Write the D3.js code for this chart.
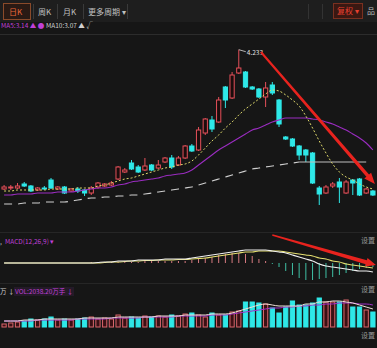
<!DOCTYPE html>
<html lang="zh-CN">
<head>
  <meta charset="utf-8">
  <title>日K</title>
  <script src="https://d3js.org/d3.v7.min.js"></script>
  <style>
    body { margin: 0; background: #161616; overflow: hidden; }
    svg { display: block; font-family: "Noto Sans CJK SC", "Noto Sans", sans-serif; }
  </style>
</head>
<body>
<div id="chart"></div>
<script>
"use strict"

// K线数据
const openP  = [2.84,2.85,2.85,2.89,2.87,2.83,2.85,2.93,2.84,2.86,2.82,2.84,2.83,2.80,2.86,2.87,2.88,2.94,3.01,3.10,
                3.06,3.03,3.08,3.05,3.11,3.15,3.08,3.15,3.27,3.23,3.40,3.53,3.51,3.86,3.75,4.00,4.01,3.86,3.84,3.76,
                3.88,3.73,3.36,3.34,3.27,3.23,3.20,2.85,2.80,2.87,2.91,2.80,2.93,2.94,2.80,2.82];
const highP  = [2.88,2.88,2.90,2.91,2.88,2.86,2.87,2.95,2.87,2.87,2.85,2.86,2.84,2.87,2.91,2.90,2.92,3.07,3.05,3.13,
                3.08,3.15,3.09,3.13,3.16,3.18,3.17,3.28,3.29,3.46,3.55,3.57,3.76,3.87,4.01,4.233,4.02,3.87,3.85,3.91,
                3.91,3.74,3.37,3.35,3.28,3.24,3.21,2.87,2.88,2.91,2.95,2.93,2.94,2.95,2.85,2.83];
const lowP   = [2.83,2.83,2.84,2.86,2.81,2.82,2.83,2.84,2.83,2.79,2.81,2.80,2.77,2.78,2.84,2.86,2.87,2.93,3.00,3.03,
                3.00,3.02,3.02,3.04,3.10,3.04,3.07,3.14,3.21,3.22,3.38,3.41,3.50,3.65,3.74,3.99,3.85,3.83,3.75,3.66,
                3.78,3.46,3.33,3.26,3.13,3.11,2.89,2.68,2.79,2.85,2.70,2.79,2.78,2.77,2.79,2.77];
const closeP = [2.86,2.86,2.87,2.87,2.82,2.85,2.84,2.85,2.86,2.80,2.84,2.82,2.80,2.85,2.90,2.89,2.90,3.06,3.03,3.04,
                3.01,3.07,3.03,3.08,3.15,3.06,3.15,3.27,3.22,3.43,3.54,3.44,3.73,3.73,3.98,4.05,3.86,3.84,3.76,3.85,
                3.80,3.49,3.34,3.27,3.18,3.18,2.90,2.79,2.86,2.89,2.86,2.91,2.90,2.78,2.84,2.78];

// 均线
const ma5  = [2.82,2.82,2.83,2.83,2.83,2.83,2.83,2.84,2.84,2.84,2.84,2.85,2.85,2.85,2.87,2.88,2.90,2.92,2.94,2.95,
              2.97,2.99,3.01,3.03,3.05,3.06,3.08,3.09,3.12,3.18,3.25,3.32,3.38,3.45,3.51,3.58,3.64,3.69,3.74,3.79,
              3.83,3.82,3.78,3.73,3.67,3.57,3.45,3.32,3.20,3.09,3.01,2.96,2.93,2.89,2.86,2.84];
const ma10 = [2.78,2.78,2.79,2.79,2.79,2.80,2.80,2.80,2.81,2.81,2.81,2.82,2.83,2.84,2.85,2.85,2.86,2.88,2.89,2.91,
              2.92,2.93,2.94,2.95,2.97,2.98,2.99,3.00,3.03,3.08,3.13,3.18,3.23,3.27,3.31,3.35,3.39,3.43,3.45,3.48,
              3.51,3.53,3.55,3.55,3.55,3.55,3.54,3.53,3.51,3.49,3.46,3.43,3.39,3.35,3.30,3.23];
const ma30 = [2.69,2.69,2.69,2.70,2.70,2.70,2.71,2.71,2.71,2.71,2.72,2.73,2.74,2.75,2.75,2.76,2.76,2.77,2.77,2.78,
              2.78,2.79,2.80,2.81,2.82,2.83,2.84,2.85,2.86,2.88,2.90,2.92,2.94,2.96,2.98,3.00,3.02,3.04,3.05,3.06,
              3.07,3.08,3.09,3.10,3.11];
const levelPrice = 3.11, levelFrom = 44, levelTo = 54;

// MACD
const dif  = [0,0,0,0,0,0,0,0,0,0,0,0,0,0,0.005,0.01,0.01,0.02,0.02,0.02,
              0.03,0.03,0.03,0.03,0.04,0.04,0.04,0.04,0.05,0.06,0.07,0.08,0.09,0.10,0.11,0.12,0.13,0.13,0.13,0.13,
              0.12,0.11,0.10,0.08,0.06,0.04,0.02,-0.01,-0.03,-0.04,-0.05,-0.06,-0.07,-0.08,-0.08,-0.09];
const dea  = [0,0,0,0,0,0,0,0,0,0,0,0,0,0,0,0.005,0.01,0.01,0.015,0.02,
              0.02,0.025,0.025,0.03,0.03,0.03,0.035,0.035,0.04,0.045,0.05,0.06,0.07,0.08,0.09,0.10,0.11,0.11,0.12,0.12,
              0.12,0.12,0.11,0.10,0.09,0.08,0.07,0.05,0.04,0.02,0.01,-0.01,-0.02,-0.03,-0.04,-0.05];
const macdHist = [0,0,0,0,0,0,0,0,0,0,0,0,0,0.01,0.01,0.01,0.01,0.01,0.01,0.01,
                  0.01,0.02,0.02,0.02,0.02,0.02,0.02,0.02,0.03,0.04,0.05,0.06,0.08,0.09,0.10,0.10,0.09,0.07,0.04,0.02,
                  -0.01,-0.04,-0.08,-0.12,-0.15,-0.17,-0.17,-0.16,-0.15,-0.14,-0.12,-0.10,-0.08,-0.06,-0.05,-0.04];

// 成交量
const vol    = [3,4,5,6,8,7,8,10,7,8,7,8,9,10,8,9,8,12,9,10,
                9,11,10,11,10,12,11,13,14,12,10,14,12,12,15,16,25,25,24,23,
                19,14,20,26,22,22,24,29,25,25,25,27,20,20,17,15];
const volMa5  = [6,6,6,7,7,7,8,8,8,8,8,8,9,9,9,9,9,10,10,10,
                 10,10,10,11,11,11,11,12,12,12,12,13,13,13,14,16,18,20,22,23,
                 22,21,21,21,21,23,23,25,25,26,26,25,24,22,20,18];
const volMa10 = [6,6,6,6,6,7,7,7,7,7,7,8,8,8,8,8,9,9,9,9,
                 9,10,10,10,10,10,11,11,11,11,11,12,12,12,13,14,15,16,17,18,
                 19,19,20,20,21,21,22,22,23,23,24,24,24,23,23,22];

const W = 377, H = 348;
const red = "#e5505a", cyan = "#2ee8e8";

const svg = d3.select("#chart").append("svg").attr("width", W).attr("height", H);
svg.append("rect").attr("width", W).attr("height", H).attr("fill", "#161616");

// ---- 顶部工具栏 ----
svg.append("rect").attr("width", W).attr("height", 22).attr("fill", "#1e1e1e");
svg.append("line").attr("x1", 0).attr("x2", W).attr("y1", 34.5).attr("y2", 34.5).attr("stroke", "#2c2c2c");
svg.append("rect").attr("x", 3.5).attr("y", 3.5).attr("width", 27).attr("height", 16)
  .attr("fill", "#2a1a14").attr("stroke", "#8a4a2a");
const tabs = [["日K", 9, "#e8683a"], ["周K", 38, "#c0c0c0"], ["月K", 63, "#c0c0c0"], ["更多周期 ▾", 88, "#c0c0c0"]];
svg.selectAll(".tab").data(tabs).enter().append("text")
  .attr("x", d => d[1]).attr("y", 15).attr("fill", d => d[2])
  .attr("font-size", 8).text(d => d[0]);
[33, 57, 83, 127].forEach(x => svg.append("line").attr("x1", x + .5).attr("x2", x + .5)
  .attr("y1", 4).attr("y2", 19).attr("stroke", "#3a3a3a"));
[308, 322].forEach(x => svg.append("line").attr("x1", x + .5).attr("x2", x + .5)
  .attr("y1", 4).attr("y2", 19).attr("stroke", "#333"));
svg.append("rect").attr("x", 333.5).attr("y", 3.5).attr("width", 29).attr("height", 15)
  .attr("fill", "#3a1812").attr("stroke", "#7a3020");
svg.append("text").attr("x", 337).attr("y", 14).attr("fill", "#e84030").attr("font-size", 8).text("复权 ▾");
svg.append("text").attr("x", 367).attr("y", 14).attr("fill", "#bbb").attr("font-size", 8).text("品");

svg.append("text").attr("x", 1).attr("y", 28).attr("font-size", 6.5).attr("fill", "#c040d8").text("MA5:3.14 ▲ ●");
svg.append("text").attr("x", 46).attr("y", 28).attr("font-size", 6.5).attr("fill", "#d0d0d0").text("MA10:3.07 ▲ √");

// ---- 比例尺 ----
const x = d3.scaleBand().domain(d3.range(openP.length)).range([0, W]).padding(0.22);
const bw = x.bandwidth();
const cx = i => x(i) + bw / 2;
const yP = d3.scaleLinear().domain([2.60, 4.30]).range([213, 43]);
const yM = d3.scaleLinear().domain([-0.25, 0.25]).range([288, 238]);
const yV = d3.scaleLinear().domain([0, 40]).range([327, 287]);

// ---- 主图 ----
const main = svg.append("g");
const candles = d3.range(openP.length).map(i => ({i, o: openP[i], h: highP[i], l: lowP[i], c: closeP[i]}));

main.selectAll(".wick").data(candles).enter().append("path")
  .attr("d", d => {
    const top = yP(Math.max(d.o, d.c)), bot = yP(Math.min(d.o, d.c));
    return `M${cx(d.i)},${yP(d.h)}V${top}M${cx(d.i)},${bot}V${yP(d.l)}`;
  })
  .attr("stroke", d => d.c >= d.o ? red : cyan).attr("stroke-width", 1);

main.selectAll(".body").data(candles).enter().append("rect")
  .attr("x", d => x(d.i) + .5)
  .attr("y", d => yP(Math.max(d.o, d.c)))
  .attr("width", bw - 1)
  .attr("height", d => Math.max(1, Math.abs(yP(d.o) - yP(d.c))))
  .attr("fill", d => d.c >= d.o ? "#1a0c0c" : cyan)
  .attr("stroke", d => d.c >= d.o ? red : cyan).attr("stroke-width", 1);

const lineP = d3.line().x((d, i) => cx(i)).y(d => yP(d)).curve(d3.curveMonotoneX);
main.append("path").attr("d", lineP(ma30)).attr("fill", "none")
  .attr("stroke", "#cfcfcf").attr("stroke-width", 1.2).attr("stroke-dasharray", "8,6");
main.append("line").attr("x1", cx(levelFrom)).attr("x2", cx(levelTo))
  .attr("y1", yP(levelPrice)).attr("y2", yP(levelPrice)).attr("stroke", "#bdbdbd").attr("stroke-width", 1.2);
main.append("path").attr("d", lineP(ma10)).attr("fill", "none")
  .attr("stroke", "#9a2cc0").attr("stroke-width", 1.1);
main.append("path").attr("d", lineP(ma5)).attr("fill", "none")
  .attr("stroke", "#dcd66a").attr("stroke-width", 1).attr("stroke-dasharray", "2,2");

// 最高价标注
const peakI = highP.indexOf(d3.max(highP));
main.append("line").attr("x1", cx(peakI)).attr("y1", yP(highP[peakI]))
  .attr("x2", cx(peakI) + 7).attr("y2", yP(highP[peakI]) + 2).attr("stroke", "#ddd").attr("stroke-width", .8);
main.append("text").attr("x", cx(peakI) + 8).attr("y", yP(highP[peakI]) + 5)
  .attr("font-size", 6.5).attr("fill", "#e0e0e0").text(d3.max(highP).toFixed(3));

// ---- 箭头 ----
function arrow(g, x1, y1, x2, y2, w1, w2, hl, hw) {
  const dx = x2 - x1, dy = y2 - y1, len = Math.hypot(dx, dy);
  const ux = dx / len, uy = dy / len, nx = -uy, ny = ux;
  const bx = x2 - ux * hl, by = y2 - uy * hl;
  const pts = [
    [x1 + nx * w1 / 2, y1 + ny * w1 / 2], [bx + nx * w2 / 2, by + ny * w2 / 2],
    [bx + nx * hw / 2, by + ny * hw / 2], [x2, y2],
    [bx - nx * hw / 2, by - ny * hw / 2], [bx - nx * w2 / 2, by - ny * w2 / 2],
    [x1 - nx * w1 / 2, y1 - ny * w1 / 2]];
  g.append("path").attr("d", "M" + pts.join("L") + "Z").attr("fill", "#e8231e");
}

// ---- MACD ----
svg.append("line").attr("x1", 0).attr("x2", W).attr("y1", 232.5).attr("y2", 232.5).attr("stroke", "#262626");
svg.append("text").attr("x", 0).attr("y", 244).attr("font-size", 6.5).attr("fill", "#ddd").text(",");
svg.append("text").attr("x", 5).attr("y", 244).attr("font-size", 6.5).attr("fill", "#c040d8").text("MACD(12,26,9) ▾");
svg.append("text").attr("x", 361).attr("y", 243).attr("font-size", 7).attr("fill", "#9a9a9a").text("设置");

const macd = svg.append("g");
macd.selectAll(".mh").data(macdHist).enter().append("line")
  .attr("x1", (d, i) => cx(i)).attr("x2", (d, i) => cx(i))
  .attr("y1", yM(0)).attr("y2", d => yM(d))
  .attr("stroke", d => d >= 0 ? "#d77a80" : "#3fbfa4").attr("stroke-width", 1);
const lineM = d3.line().x((d, i) => cx(i)).y(d => yM(d)).curve(d3.curveMonotoneX);
macd.append("path").attr("d", lineM(dea)).attr("fill", "none").attr("stroke", "#e6e070").attr("stroke-width", 1.1);
macd.append("path").attr("d", lineM(dif)).attr("fill", "none").attr("stroke", "#f0f0f0").attr("stroke-width", 1.1);

// ---- 成交量 ----
svg.append("line").attr("x1", 0).attr("x2", W).attr("y1", 283.5).attr("y2", 283.5).attr("stroke", "#262626");
svg.append("text").attr("x", 0).attr("y", 294).attr("font-size", 6.5).attr("fill", "#ccc").text("万 ↓");
svg.append("rect").attr("x", 14).attr("y", 287).attr("width", 60).attr("height", 9).attr("fill", "#241a28");
svg.append("text").attr("x", 15).attr("y", 294).attr("font-size", 6.5).attr("fill", "#c040d8").text("VOL:2038.20万手 ↓");
svg.append("text").attr("x", 361).attr("y", 292).attr("font-size", 7).attr("fill", "#9a9a9a").text("设置");
svg.append("text").attr("x", 361).attr("y", 338).attr("font-size", 7).attr("fill", "#9a9a9a").text("设置");

const volG = svg.append("g");
volG.selectAll(".vb").data(vol).enter().append("rect")
  .attr("x", (d, i) => x(i) + .5).attr("y", d => yV(d))
  .attr("width", bw - 1).attr("height", d => yV(0) - yV(d))
  .attr("fill", (d, i) => closeP[i] >= openP[i] ? "#3a1014" : cyan)
  .attr("stroke", (d, i) => closeP[i] >= openP[i] ? "#d8646a" : cyan).attr("stroke-width", 1);
const lineV = d3.line().x((d, i) => cx(i)).y(d => yV(d)).curve(d3.curveMonotoneX);
volG.append("path").attr("d", lineV(volMa10)).attr("fill", "none").attr("stroke", "#a030c8").attr("stroke-width", 1);
volG.append("path").attr("d", lineV(volMa5)).attr("fill", "none").attr("stroke", "#f0e0d8").attr("stroke-width", 1);

// 箭头 (画在最上层)
arrow(svg, cx(38) + 2, yP(4.21), cx(55) + 2, yP(2.89), 2, 3.5, 11, 9);
arrow(svg, cx(40), yM(0.28), cx(55) + 3, yM(-0.02), 1.5, 4, 10, 9);
</script>
</body>
</html>
